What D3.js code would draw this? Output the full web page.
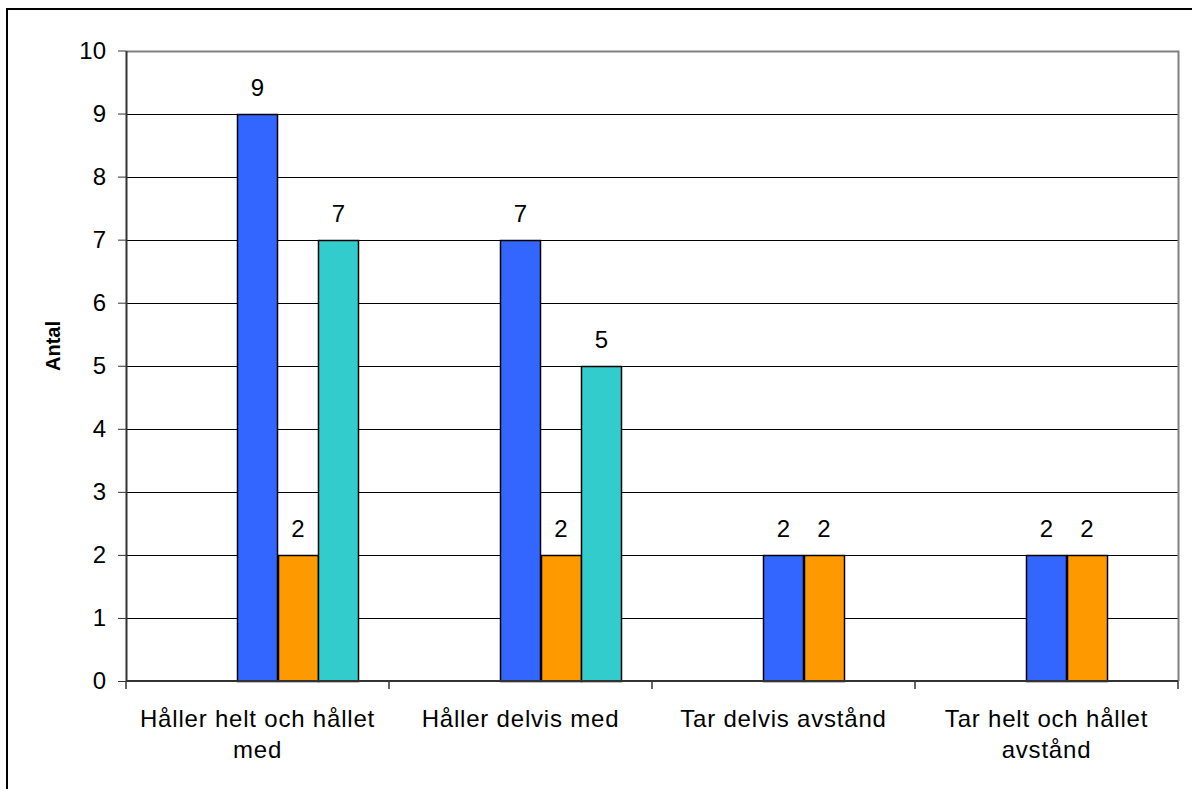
<!DOCTYPE html>
<html><head><meta charset="utf-8">
<script src="https://cdn.jsdelivr.net/npm/d3@7"></script>
<style>body{margin:0;background:#fff}svg{display:block}</style>
</head><body>
<svg id="c" width="1192" height="789"></svg>
<script>
const categories = ["Håller helt och hållet med", "Håller delvis med", "Tar delvis avstånd", "Tar helt och hållet avstånd"];
const seriesNames = ["S1", "S2", "S3", "S4", "S5"];
const seriesColors = ["#999999", "#993366", "#3366FF", "#FF9900", "#33CCCC"];
const s1 = [null, null, null, null];
const s2 = [null, null, null, null];
const s3 = [9, 7, 2, 2];
const s4 = [2, 2, 2, 2];
const s5 = [7, 5, null, null];
const seriesValues = [s1, s2, s3, s4, s5];
const yTicks = [0,1,2,3,4,5,6,7,8,9,10];
const yTitle = "Antal";

const svg = d3.select("#c");
const font = "'Liberation Sans', Arial, sans-serif";
const L = 126, R = 1178, T = 50.5, B = 681;

svg.append("rect").attr("x",7).attr("y",9).attr("width",1300).attr("height",900)
  .attr("fill","#fff").attr("stroke","#000").attr("stroke-width",2);

const x = d3.scaleBand().domain(categories).range([L,R]).padding(0);
const xs = d3.scaleBand().domain(seriesNames).range([0,x.bandwidth()]).paddingInner(0).paddingOuter(0.75);
const y = d3.scaleLinear().domain([0,10]).range([B,T]);

// gridlines
svg.append("g").selectAll("line").data(yTicks.filter(d=>d>0&&d<10)).join("line")
  .attr("x1",L).attr("x2",R).attr("y1",d=>Math.round(y(d))+0.5).attr("y2",d=>Math.round(y(d))+0.5)
  .attr("stroke","#000").attr("stroke-width",1);
// plot border top/right
svg.append("path").attr("d",`M${L},${Math.round(y(10))+0.5}H${R+0.5}V${B}`)
  .attr("fill","none").attr("stroke","#808080").attr("stroke-width",2);

// bars
const bars = [];
seriesValues.forEach((vals,si)=>vals.forEach((v,ci)=>{ if(v!=null) bars.push({si,ci,v}); }));
svg.append("g").selectAll("rect").data(bars).join("rect")
  .attr("x",d=>Math.round(x(categories[d.ci])+xs(seriesNames[d.si]))+0.5)
  .attr("width",d=>Math.round(xs.bandwidth()))
  .attr("y",d=>Math.round(y(d.v))+0.5)
  .attr("height",d=>Math.round(y(0))-Math.round(y(d.v)))
  .attr("fill",d=>seriesColors[d.si]).attr("stroke","#000").attr("stroke-width",1.5);

svg.append("g").selectAll("text").data(bars).join("text")
  .attr("x",d=>x(categories[d.ci])+xs(seriesNames[d.si])+xs.bandwidth()/2)
  .attr("y",d=>y(d.v)-18)
  .attr("text-anchor","middle").attr("font-family",font).attr("font-size",24).attr("fill","#000")
  .text(d=>d.v);

// y axis
const ya = svg.append("g").attr("transform",`translate(${L},0)`)
  .call(d3.axisLeft(y).tickValues(yTicks).tickSize(8).tickPadding(12).tickSizeOuter(0));
ya.select(".domain").attr("stroke","#333").attr("stroke-width",2);
ya.selectAll(".tick line").attr("stroke","#333");
ya.selectAll("text").attr("font-family",font).attr("font-size",24).attr("fill","#000");

// x axis
svg.append("line").attr("x1",L).attr("x2",R).attr("y1",B).attr("y2",B).attr("stroke","#333").attr("stroke-width",2);
const bounds = categories.map(c=>x(c)).concat([R]);
svg.append("g").selectAll("line").data(bounds).join("line")
  .attr("x1",d=>d).attr("x2",d=>d).attr("y1",B).attr("y2",B+8).attr("stroke","#333").attr("stroke-width",1.5);

function wrap(str,maxW,fs){
  const tmp = svg.append("text").attr("font-family",font).attr("font-size",fs).attr("letter-spacing","0.8px");
  const words = str.split(" "); const lines=[]; let cur="";
  words.forEach(w=>{ const t = cur? cur+" "+w : w; tmp.text(t);
    if(tmp.node().getComputedTextLength()>maxW && cur){ lines.push(cur); cur=w; } else cur=t; });
  lines.push(cur); tmp.remove(); return lines;
}
categories.forEach(c=>{
  const lines = wrap(c,245,24);
  const t = svg.append("text").attr("font-family",font).attr("font-size",24).attr("letter-spacing","0.8px")
    .attr("text-anchor","middle").attr("fill","#000");
  lines.forEach((ln,i)=>t.append("tspan").attr("x",x(c)+x.bandwidth()/2).attr("y",727+i*31).text(ln));
});

svg.append("text").attr("transform","translate(60,346) rotate(-90)")
  .attr("text-anchor","middle").attr("font-family",font).attr("font-weight","bold").attr("font-size",20)
  .text(yTitle);
</script>
</body></html>
